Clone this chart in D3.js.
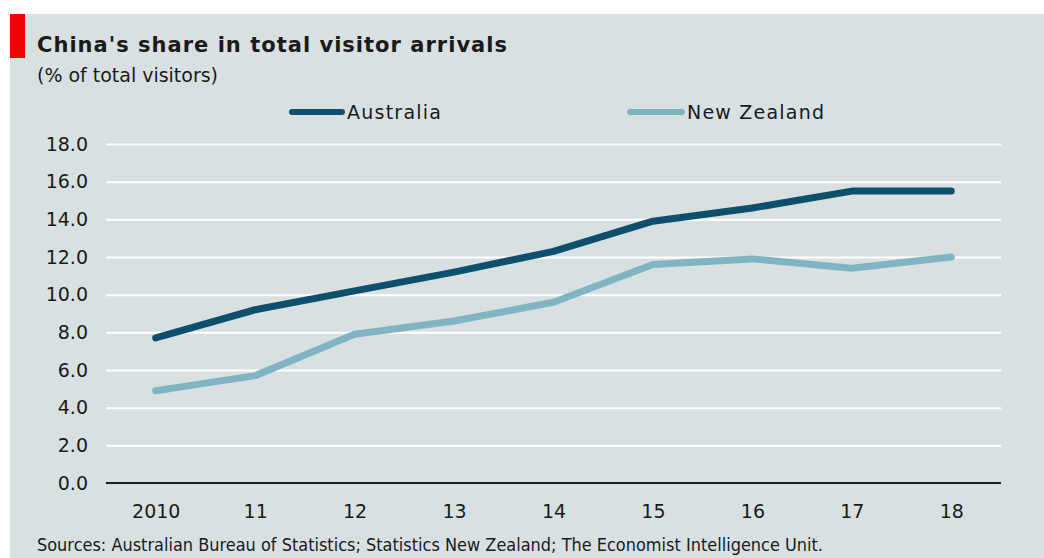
<!DOCTYPE html>
<html>
<head>
<meta charset="utf-8">
<script src="https://cdn.jsdelivr.net/npm/d3@7/dist/d3.min.js"></script>
<style>
  html, body { margin: 0; padding: 0; background: #ffffff; }
  svg { display: block; }
  text { font-family: "DejaVu Sans", Verdana, sans-serif; fill: #1a1a1a; }
</style>
</head>
<body>
<svg id="chart" width="1044" height="558"></svg>
<script>
// Chart data
const years = ["2010", "11", "12", "13", "14", "15", "16", "17", "18"];
const australia = [7.7, 9.2, 10.2, 11.2, 12.3, 13.9, 14.6, 15.5, 15.5];
const newZealand = [4.9, 5.7, 7.9, 8.6, 9.6, 11.6, 11.9, 11.4, 12.0];
const yTicks = [0, 2, 4, 6, 8, 10, 12, 14, 16, 18];
const seriesNames = ["Australia", "New Zealand"];

const colors = { Australia: "#0e506b", "New Zealand": "#80b4c3" };

const svg = d3.select("#chart");
const W = 1044, H = 558;

// Panel background and red tag
svg.append("rect").attr("x", 10).attr("y", 14).attr("width", W - 10).attr("height", H - 14)
  .attr("fill", "#d9e0e2");
svg.append("rect").attr("x", 10).attr("y", 14).attr("width", 15).attr("height", 44)
  .attr("fill", "#f00000");

// Titles
svg.append("text").attr("x", 37).attr("y", 52)
  .attr("font-size", 21).attr("font-weight", "bold")
  .attr("textLength", 470).attr("lengthAdjust", "spacing")
  .text("China's share in total visitor arrivals");
svg.append("text").attr("x", 37).attr("y", 82)
  .attr("font-size", 19)
  .attr("textLength", 181).attr("lengthAdjust", "spacingAndGlyphs")
  .text("(% of total visitors)");

// Scales
const margin = { left: 106, right: 1001, top: 144, bottom: 483 };
const x = d3.scalePoint().domain(years).range([margin.left, margin.right]).padding(0.5);
const y = d3.scaleLinear().domain([0, 18]).range([margin.bottom, margin.top]);

// Gridlines
const grid = svg.append("g").attr("transform", `translate(0,0)`)
  .call(d3.axisLeft(y).tickValues(yTicks.slice(1)).tickSize(-(margin.right - margin.left)).tickFormat(""))
  .attr("transform", `translate(${margin.left},0)`);
grid.select(".domain").remove();
grid.selectAll(".tick line").attr("stroke", "#ffffff").attr("stroke-width", 2);

// Y-axis labels
const yAxis = svg.append("g").attr("transform", `translate(${margin.left},0)`)
  .call(d3.axisLeft(y).tickValues(yTicks).tickSize(0).tickPadding(18).tickFormat(d3.format(".1f")));
yAxis.select(".domain").remove();
yAxis.selectAll("text").attr("font-size", 19).attr("fill", "#1a1a1a")
  .attr("font-family", "'DejaVu Sans', Verdana, sans-serif");

// Baseline
svg.append("line").attr("x1", margin.left).attr("x2", margin.right)
  .attr("y1", y(0)).attr("y2", y(0)).attr("stroke", "#1e1e1e").attr("stroke-width", 2);

// X-axis labels
const xAxis = svg.append("g").attr("transform", `translate(0,${margin.bottom})`)
  .call(d3.axisBottom(x).tickSize(0).tickPadding(22));
xAxis.select(".domain").remove();
xAxis.selectAll("text").attr("font-size", 19).attr("fill", "#1a1a1a")
  .attr("font-family", "'DejaVu Sans', Verdana, sans-serif");

// Lines
const line = d3.line().x((d, i) => x(years[i])).y(d => y(d));
[["New Zealand", newZealand], ["Australia", australia]].forEach(([name, vals]) => {
  svg.append("path").datum(vals)
    .attr("d", line)
    .attr("fill", "none")
    .attr("stroke", colors[name])
    .attr("stroke-width", 7)
    .attr("stroke-linecap", "round")
    .attr("stroke-linejoin", "round");
});

// Legend
const legendItems = [
  { name: seriesNames[0], x0: 292, x1: 342, tx: 347, tl: 94 },
  { name: seriesNames[1], x0: 630, x1: 682, tx: 687, tl: 137 }
];
legendItems.forEach(it => {
  svg.append("line").attr("x1", it.x0).attr("x2", it.x1).attr("y1", 112).attr("y2", 112)
    .attr("stroke", colors[it.name]).attr("stroke-width", 6).attr("stroke-linecap", "round");
  svg.append("text").attr("x", it.tx).attr("y", 119)
    .attr("font-size", 19)
    .attr("textLength", it.tl).attr("lengthAdjust", "spacing")
    .text(it.name);
});

// Source note
svg.append("text").attr("x", 37).attr("y", 551)
  .attr("font-size", 17)
  .attr("textLength", 786).attr("lengthAdjust", "spacingAndGlyphs")
  .text("Sources: Australian Bureau of Statistics; Statistics New Zealand; The Economist Intelligence Unit.");
</script>
</body>
</html>
